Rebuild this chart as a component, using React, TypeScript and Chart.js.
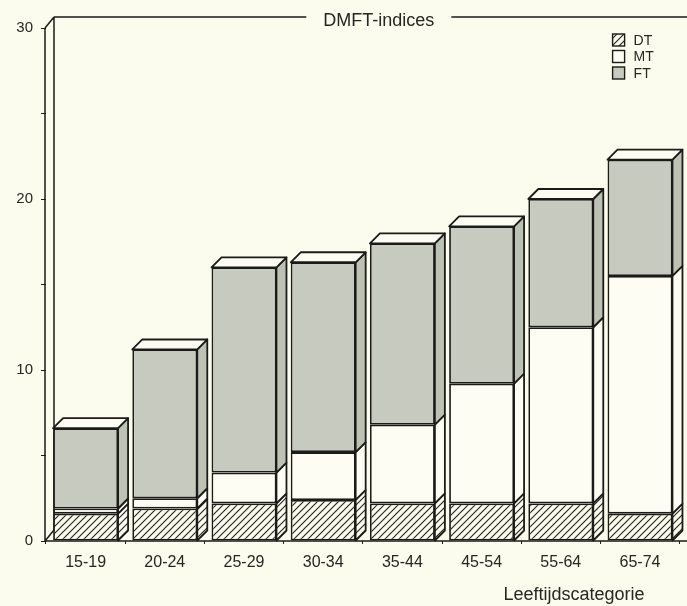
import React, { useEffect, useRef } from 'react';
import { Chart, registerables } from 'chart.js';

Chart.register(...registerables);

const categories = ['15-19', '20-24', '25-29', '30-34', '35-44', '45-54', '55-64', '65-74'];
const dtValues = [1.6, 1.9, 2.2, 2.4, 2.2, 2.2, 2.2, 1.6];
const mtValues = [0.3, 0.6, 1.8, 2.8, 4.6, 7.0, 10.3, 13.9];
const ftValues = [4.7, 8.7, 12.0, 11.1, 10.6, 9.2, 7.5, 6.8];
const seriesLabels = ['DT', 'MT', 'FT'];
const yMax = 30;
const yStep = 5;
const yLabelEvery = 10;
const chartTitle = 'DMFT-indices';
const xAxisTitle = 'Leeftijdscategorie';

const W = 687;
const H = 606;
const BG = '#fbfbee';
const OUTLINE = '#1b1c18';
const TEXT = '#262623';
const FONT = '"Liberation Sans", Arial, Helvetica, sans-serif';
const DX = 10;
const DY = 10;
const WX = 9;
const WY = 11;
const LW = 1.8;

function makeHatch(ctx: CanvasRenderingContext2D) {
  const s = 7;
  const c = document.createElement('canvas');
  c.width = s;
  c.height = s;
  const g = c.getContext('2d')!;
  g.fillStyle = BG;
  g.fillRect(0, 0, s, s);
  g.strokeStyle = '#262622';
  g.lineWidth = 1.15;
  g.beginPath();
  g.moveTo(0, s);
  g.lineTo(s, 0);
  g.moveTo(-1, 1);
  g.lineTo(1, -1);
  g.moveTo(s - 1, s + 1);
  g.lineTo(s + 1, s - 1);
  g.stroke();
  return ctx.createPattern(c, 'repeat')!;
}

const threeD = {
  id: 'threeD',
  beforeDatasetsDraw(chart: any) {
    const ctx = chart.ctx as CanvasRenderingContext2D;
    const { left, right, top, bottom } = chart.chartArea;
    const fx = left - 1;
    ctx.save();
    ctx.strokeStyle = OUTLINE;
    ctx.lineWidth = 1.5;
    ctx.beginPath();
    ctx.moveTo(fx, top);
    ctx.lineTo(fx, bottom);
    ctx.moveTo(fx + WX, top - WY);
    ctx.lineTo(fx + WX, bottom - WY);
    ctx.moveTo(fx, top);
    ctx.lineTo(fx + WX, top - WY);
    ctx.moveTo(fx, bottom);
    ctx.lineTo(fx + WX, bottom - WY);
    ctx.moveTo(fx, bottom);
    ctx.lineTo(W, bottom);
    ctx.stroke();

    ctx.font = `18px ${FONT}`;
    const tw = ctx.measureText(chartTitle).width;
    const cx = (left + right) / 2 + 16;
    const ty = top - WY;
    ctx.beginPath();
    ctx.moveTo(fx + WX, ty);
    ctx.lineTo(cx - tw / 2 - 17, ty);
    ctx.moveTo(cx + tw / 2 + 17, ty);
    ctx.lineTo(W, ty);
    ctx.stroke();
    ctx.fillStyle = TEXT;
    ctx.textAlign = 'center';
    ctx.textBaseline = 'middle';
    ctx.fillText(chartTitle, cx, ty + 4);
    ctx.restore();
  },
  afterDatasetsDraw(chart: any) {
    const ctx = chart.ctx as CanvasRenderingContext2D;
    const n = chart.data.datasets.length;
    ctx.save();
    ctx.lineWidth = LW;
    ctx.strokeStyle = OUTLINE;
    ctx.lineJoin = 'round';
    chart.data.datasets.forEach((ds: any, di: number) => {
      const meta = chart.getDatasetMeta(di);
      meta.data.forEach((el: any) => {
        const { x, y, base, width } = el.getProps(['x', 'y', 'base', 'width'], true);
        const l = x - width / 2;
        const r = x + width / 2;
        ctx.beginPath();
        ctx.moveTo(r, y);
        ctx.lineTo(r + DX, y - DY);
        ctx.lineTo(r + DX, base - DY);
        ctx.lineTo(r, base);
        ctx.closePath();
        ctx.fillStyle = ds.sideColor;
        ctx.fill();
        ctx.stroke();
        if (di === n - 1) {
          ctx.beginPath();
          ctx.moveTo(l, y);
          ctx.lineTo(l + DX, y - DY);
          ctx.lineTo(r + DX, y - DY);
          ctx.lineTo(r, y);
          ctx.closePath();
          ctx.fillStyle = ds.topColor;
          ctx.fill();
          ctx.stroke();
        }
      });
    });
    ctx.restore();
  },
  afterDraw(chart: any) {
    const ctx = chart.ctx as CanvasRenderingContext2D;
    const { right, top, bottom } = chart.chartArea;
    ctx.save();
    const bx = right - 67;
    let by = top + 12;
    ctx.font = `14px ${FONT}`;
    ctx.textAlign = 'left';
    ctx.textBaseline = 'middle';
    chart.data.datasets.forEach((ds: any) => {
      ctx.fillStyle = ds.backgroundColor;
      ctx.fillRect(bx, by - 6, 12, 12);
      ctx.strokeStyle = OUTLINE;
      ctx.lineWidth = 1.4;
      ctx.strokeRect(bx, by - 6, 12, 12);
      ctx.fillStyle = TEXT;
      ctx.fillText(ds.label, bx + 21, by + 1);
      by += 16.5;
    });
    ctx.font = `18px ${FONT}`;
    ctx.textAlign = 'center';
    ctx.fillStyle = TEXT;
    ctx.fillText(xAxisTitle, 574, bottom + 54);
    ctx.restore();
  },
};

export default function App() {
  const ref = useRef<HTMLCanvasElement | null>(null);
  useEffect(() => {
    const canvas = ref.current!;
    const ctx = canvas.getContext('2d')!;
    const hatch = makeHatch(ctx);
    const chart = new Chart(canvas, {
      type: 'bar',
      data: {
        labels: categories,
        datasets: [
          { label: seriesLabels[0], data: dtValues, backgroundColor: hatch, sideColor: hatch, topColor: BG } as any,
          { label: seriesLabels[1], data: mtValues, backgroundColor: '#fdfdf3', sideColor: '#fdfdf3', topColor: '#fdfdf3' } as any,
          { label: seriesLabels[2], data: ftValues, backgroundColor: '#c7cbbf', sideColor: '#bec2b5', topColor: '#fcfcf2' } as any,
        ].map((d: any) => ({
          ...d,
          borderColor: OUTLINE,
          borderWidth: LW,
          borderSkipped: false,
          barPercentage: 0.82,
          categoryPercentage: 1,
        })),
      },
      options: {
        responsive: false,
        animation: false,
        devicePixelRatio: 1,
        layout: { padding: { top: 28, right: 7.4, left: 0, bottom: 0 } },
        plugins: { legend: { display: false }, tooltip: { enabled: false }, title: { display: false } },
        scales: {
          x: {
            stacked: true,
            afterFit: (s: any) => { s.height = 65; },
            border: { display: false },
            grid: { drawOnChartArea: false, drawTicks: true, tickLength: 3, color: OUTLINE },
            ticks: { color: TEXT, font: { family: FONT, size: 16 }, padding: 9, maxRotation: 0 },
          },
          y: {
            stacked: true,
            min: 0,
            max: yMax,
            afterFit: (s: any) => { s.width = 46; },
            border: { display: false },
            grid: { drawOnChartArea: false, drawTicks: true, tickLength: 5, color: OUTLINE },
            ticks: {
              stepSize: yStep,
              color: TEXT,
              padding: 8,
              font: { family: FONT, size: 15 },
              callback: (v: any) => (Number(v) % yLabelEvery === 0 ? String(v) : ''),
            },
          },
        },
      },
      plugins: [threeD],
    } as any);
    return () => chart.destroy();
  }, []);
  return (
    <div style={{ position: 'fixed', left: 0, top: 0, width: W, height: H, background: BG }}>
      <canvas ref={ref} width={W} height={H} style={{ display: 'block' }} />
    </div>
  );
}
